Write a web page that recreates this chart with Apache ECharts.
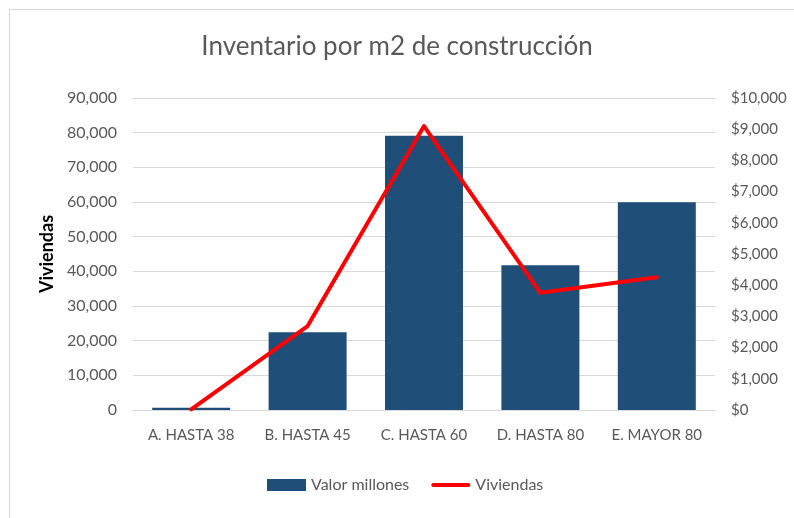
<!DOCTYPE html>
<html>
<head>
<meta charset="utf-8">
<script src="https://cdn.jsdelivr.net/npm/echarts@6/dist/echarts.min.js"></script>
<style>
  html, body { margin: 0; padding: 0; background: #fff; }
  #chart { width: 794px; height: 518px; position: relative; }
  .frame {
    position: absolute; left: 9px; top: 9px; width: 785px; height: 509px;
    border-left: 1px solid #d9d9d9; border-top: 1px solid #d9d9d9;
    pointer-events: none;
  }
</style>
</head>
<body>
<div id="chart"></div>
<div class="frame"></div>
<script>
// categorías y series
const categories = ["A. HASTA 38", "B. HASTA 45", "C. HASTA 60", "D. HASTA 80", "E. MAYOR 80"];
const valorMillones = [70, 2490, 8790, 4640, 6660];
const viviendas = [200, 24200, 81900, 33800, 38300];

const font = "Lato, 'Open Sans', sans-serif";
const grey = "#595959";

const chart = echarts.init(document.getElementById("chart"));

chart.setOption({
  animation: false,
  backgroundColor: "#fff",
  title: {
    text: "Inventario por m2 de construcción",
    left: "center",
    top: 29,
    textStyle: { fontFamily: font, fontSize: 26, fontWeight: "normal", color: grey },
  },
  grid: { left: 133, right: 79, top: 98, bottom: 108 },
  legend: {
    bottom: 20,
    left: 262,
    itemWidth: 39,
    itemHeight: 12,
    itemGap: 22,
    symbolKeepAspect: true,
    textStyle: { fontFamily: font, fontSize: 16, color: grey },
    data: [
      { name: "Valor millones", icon: "rect" },
      { name: "Viviendas", icon: "path://M2,0H38A2,2 0 0 1 38,4H2A2,2 0 0 1 2,0Z", itemStyle: { color: "#ff0000" } },
    ],
  },
  xAxis: {
    type: "category",
    data: categories,
    axisLine: { show: false },
    axisTick: { show: false },
    axisLabel: { fontFamily: font, fontSize: 15, color: grey, margin: 18, interval: 0 },
  },
  yAxis: [
    {
      type: "value",
      min: 0,
      max: 90000,
      interval: 10000,
      name: "Viviendas",
      nameLocation: "middle",
      nameGap: 72,
      nameTextStyle: { fontFamily: font, fontSize: 18, fontWeight: "bold", color: "#000" },
      axisLine: { show: false },
      axisTick: { show: false },
      axisLabel: {
        fontFamily: font, fontSize: 16, color: grey, margin: 16,
        formatter: (v) => v.toLocaleString("en-US"),
      },
      splitLine: { lineStyle: { color: "#d9d9d9", width: 1 } },
    },
    {
      type: "value",
      min: 0,
      max: 10000,
      interval: 1000,
      axisLine: { show: false },
      axisTick: { show: false },
      axisLabel: {
        fontFamily: font, fontSize: 15, color: grey, margin: 16,
        formatter: (v) => "$" + v.toLocaleString("en-US"),
      },
      splitLine: { show: false },
    },
  ],
  series: [
    {
      name: "Valor millones",
      type: "bar",
      yAxisIndex: 1,
      data: valorMillones,
      barWidth: "67%",
      itemStyle: { color: "#1f4e79" },
    },
    {
      name: "Viviendas",
      type: "line",
      yAxisIndex: 0,
      data: viviendas,
      symbol: "none",
      lineStyle: { color: "#ff0000", width: 4, join: "round", cap: "round" },
      itemStyle: { color: "#ff0000" },
    },
  ],
});
</script>
</body>
</html>
